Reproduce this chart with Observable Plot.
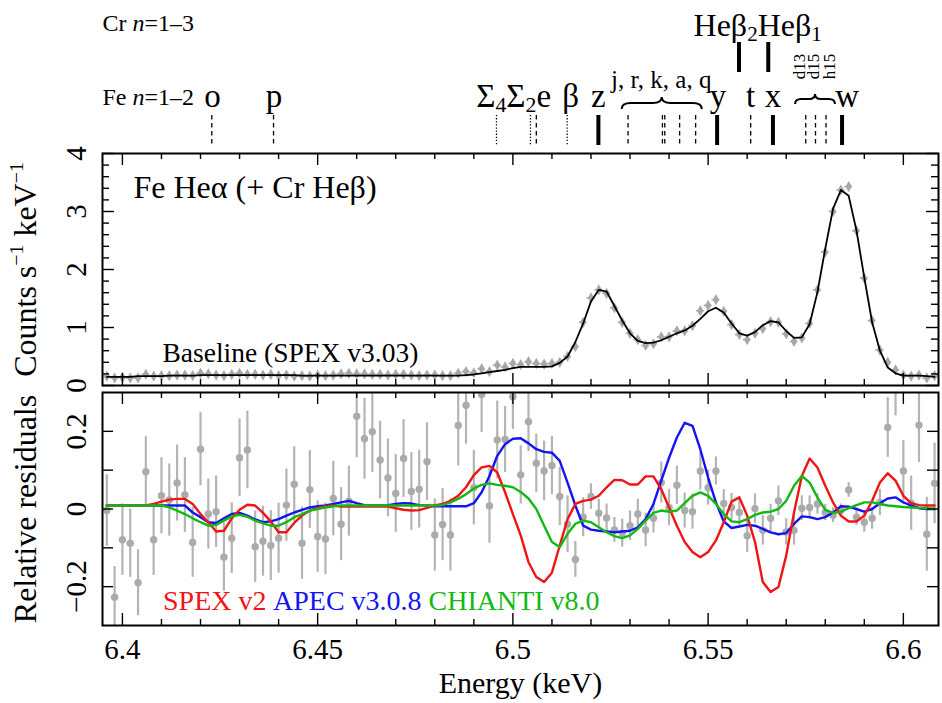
<!DOCTYPE html>
<html>
<head>
<meta charset="utf-8">
<script src="https://cdn.jsdelivr.net/npm/d3@7"></script>
<script src="https://cdn.jsdelivr.net/npm/@observablehq/plot@0.6"></script>
<style>
html,body{margin:0;padding:0;background:#fff;}
#chart{position:relative;width:942px;height:703px;overflow:hidden;background:#fff;}
#chart svg{position:absolute;left:0;}
</style>
</head>
<body>
<div id="chart"></div>
<script>
// ---------------- DATA ----------------
const energy = [6.396,6.398,6.400,6.402,6.404,6.406,6.408,6.410,6.412,6.414,
6.416,6.418,6.420,6.422,6.424,6.426,6.428,6.430,6.432,6.434,
6.436,6.438,6.440,6.442,6.444,6.446,6.448,6.450,6.452,6.454,
6.456,6.458,6.460,6.462,6.464,6.466,6.468,6.470,6.472,6.474,
6.476,6.478,6.480,6.482,6.484,6.486,6.488,6.490,6.492,6.494,
6.496,6.498,6.500,6.502,6.504,6.506,6.508,6.510,6.512,6.514,
6.516,6.518,6.520,6.522,6.524,6.526,6.528,6.530,6.532,6.534,
6.536,6.538,6.540,6.542,6.544,6.546,6.548,6.550,6.552,6.554,
6.556,6.558,6.560,6.562,6.564,6.566,6.568,6.570,6.572,6.574,
6.576,6.578,6.580,6.582,6.584,6.586,6.588,6.590,6.592,6.594,
6.596,6.598,6.600,6.602,6.604,6.606,6.608];

// observed counts (counts s^-1 keV^-1)
const counts = [0.16,0.13,0.14,0.13,0.13,0.19,0.16,0.17,0.17,0.18,
0.18,0.17,0.21,0.20,0.18,0.17,0.19,0.21,0.19,0.19,
0.18,0.19,0.17,0.18,0.16,0.17,0.16,0.18,0.17,0.18,
0.20,0.21,0.20,0.20,0.19,0.19,0.18,0.19,0.19,0.18,
0.17,0.18,0.18,0.17,0.17,0.21,0.24,0.22,0.29,0.24,
0.35,0.32,0.38,0.36,0.41,0.38,0.37,0.38,0.40,0.50,
0.67,1.09,1.51,1.65,1.59,1.34,1.09,0.90,0.79,0.69,
0.72,0.84,0.84,0.94,0.94,1.03,1.29,1.38,1.48,1.28,
1.05,0.88,0.79,0.90,0.98,1.10,1.09,0.89,0.76,0.82,
1.07,1.65,2.30,3.00,3.37,3.43,2.67,1.85,1.12,0.61,
0.40,0.27,0.18,0.16,0.18,0.13,0.17];
const countsErr = 0.045;
const binHalfWidth = 0.001;

// baseline model (SPEX v3.03)
const model = [0.15,0.15,0.15,0.15,0.16,0.16,0.16,0.16,0.17,0.17,
0.17,0.17,0.18,0.18,0.18,0.18,0.18,0.18,0.18,0.18,
0.18,0.18,0.18,0.18,0.18,0.17,0.17,0.17,0.17,0.17,
0.17,0.17,0.17,0.17,0.17,0.17,0.17,0.17,0.17,0.17,
0.17,0.17,0.17,0.17,0.17,0.17,0.18,0.19,0.21,0.23,
0.25,0.27,0.30,0.32,0.32,0.32,0.32,0.33,0.39,0.50,
0.75,1.07,1.45,1.65,1.62,1.37,1.12,0.90,0.77,0.73,
0.74,0.78,0.84,0.90,0.95,1.03,1.15,1.28,1.34,1.26,
1.07,0.90,0.86,0.92,1.04,1.11,1.09,0.94,0.82,0.83,
1.06,1.61,2.36,3.05,3.37,3.27,2.67,1.86,1.09,0.60,
0.31,0.21,0.17,0.17,0.17,0.16,0.15];

// relative residuals and their errors
const residual = [-0.004,-0.227,-0.079,-0.088,-0.190,0.096,-0.079,0.034,0.023,0.067,
0.036,-0.086,0.154,-0.013,-0.007,-0.124,-0.075,0.132,0.152,-0.097,
-0.083,-0.094,-0.075,0.010,0.064,-0.088,0.050,-0.071,-0.077,0.027,
-0.039,0.020,0.239,0.181,0.199,0.126,0.080,0.040,0.130,0.045,
0.051,0.122,-0.067,-0.040,-0.067,0.215,0.267,0.055,0.295,0.008,
0.178,0.179,0.289,0.088,0.225,0.118,0.098,0.112,0.032,-0.039,
-0.130,-0.021,0.032,-0.011,-0.023,-0.054,-0.062,-0.043,-0.013,-0.054,
-0.024,0.068,0.004,0.061,-0.004,-0.007,0.098,0.055,0.098,0.014,
0.004,-0.009,-0.069,0.001,-0.055,-0.024,0.021,-0.059,-0.055,0.002,
0.004,0.013,-0.009,-0.016,-0.004,0.049,-0.021,-0.034,-0.024,0.017,
0.210,0.320,0.098,0.015,0.216,-0.065,0.066];
const residualErr = [0.092,0.079,0.092,0.088,0.085,0.090,0.092,0.098,0.093,0.098,
0.096,0.090,0.094,0.090,0.092,0.088,0.091,0.100,0.100,0.092,
0.090,0.090,0.090,0.093,0.096,0.093,0.100,0.092,0.092,0.096,
0.094,0.090,0.107,0.104,0.105,0.100,0.100,0.100,0.100,0.100,
0.100,0.100,0.093,0.093,0.093,0.104,0.100,0.096,0.098,0.096,
0.100,0.085,0.084,0.075,0.077,0.075,0.077,0.075,0.075,0.073,
0.046,0.050,0.033,0.036,0.036,0.032,0.036,0.038,0.038,0.043,
0.038,0.053,0.047,0.049,0.045,0.045,0.049,0.045,0.036,0.036,
0.036,0.034,0.043,0.038,0.038,0.036,0.038,0.034,0.038,0.032,
0.030,0.026,0.021,0.019,0.017,0.019,0.021,0.026,0.028,0.034,
0.077,0.080,0.078,0.070,0.096,0.095,0.104];

// alternative codes, relative to baseline
const spexV2 = [0.009,0.009,0.009,0.009,0.009,0.009,0.013,0.019,0.024,0.026,
0.026,0.013,-0.013,-0.034,-0.058,-0.056,-0.024,-0.002,0.011,0.009,
-0.010,-0.032,-0.060,-0.060,-0.036,-0.017,-0.004,0.003,0.007,0.009,
0.006,0.006,0.006,0.006,0.006,0.006,0.006,0.002,-0.002,-0.004,
-0.003,0.003,0.009,0.013,0.021,0.034,0.056,0.087,0.107,0.111,
0.094,0.043,-0.013,-0.068,-0.137,-0.175,-0.188,-0.164,-0.094,-0.026,
0.013,0.021,0.024,0.034,0.056,0.075,0.074,0.063,0.063,0.084,
0.084,0.051,0.004,-0.043,-0.085,-0.111,-0.124,-0.111,-0.081,-0.034,
0.019,0.030,-0.017,-0.085,-0.188,-0.214,-0.201,-0.120,-0.009,0.085,
0.130,0.107,0.060,0.017,-0.017,-0.032,-0.032,-0.017,0.021,0.068,
0.092,0.073,0.034,0.015,0.010,0.009,0.009];
const apecV308 = [0.009,0.009,0.009,0.009,0.009,0.009,0.009,0.009,0.009,0.009,
0.009,-0.009,-0.021,-0.034,-0.036,-0.024,-0.013,-0.010,-0.017,-0.027,
-0.034,-0.032,-0.026,-0.017,-0.009,-0.002,0.004,0.007,0.009,0.013,
0.017,0.021,0.015,0.010,0.009,0.009,0.010,0.013,0.015,0.014,
0.010,0.009,0.007,0.007,0.007,0.007,0.007,0.015,0.043,0.085,
0.137,0.167,0.181,0.182,0.169,0.154,0.147,0.145,0.124,0.068,
0.009,-0.043,-0.053,-0.056,-0.058,-0.060,-0.058,-0.056,-0.047,-0.026,
0.013,0.073,0.132,0.184,0.222,0.214,0.154,0.081,0.017,-0.032,
-0.049,-0.045,-0.041,-0.043,-0.051,-0.060,-0.065,-0.062,-0.038,-0.019,
-0.021,-0.026,-0.021,-0.009,0.007,0.006,0.000,-0.007,0.000,0.015,
0.027,0.030,0.017,0.009,0.002,0.000,0.000];
const chiantiV8 = [0.009,0.009,0.009,0.009,0.009,0.009,0.009,0.009,0.004,-0.004,
-0.013,-0.024,-0.034,-0.043,-0.041,-0.030,-0.019,-0.015,-0.020,-0.030,
-0.037,-0.043,-0.043,-0.034,-0.021,-0.013,-0.004,0.000,0.004,0.007,
0.009,0.009,0.009,0.009,0.009,0.009,0.009,0.009,0.009,0.009,
0.009,0.009,0.009,0.010,0.017,0.026,0.038,0.053,0.062,0.066,
0.062,0.060,0.056,0.044,0.027,0.000,-0.043,-0.085,-0.098,-0.064,
-0.038,-0.030,-0.034,-0.047,-0.060,-0.070,-0.075,-0.068,-0.051,-0.030,
-0.010,-0.004,-0.007,-0.004,0.015,0.034,0.043,0.034,0.013,-0.013,
-0.032,-0.034,-0.026,-0.015,-0.009,-0.007,0.000,0.021,0.060,0.085,
0.068,0.030,-0.002,-0.010,-0.007,0.002,0.010,0.017,0.017,0.013,
0.009,0.007,0.005,0.004,0.003,0.002,0.000];

// legend
const codeNames = ["SPEX v2", "APEC v3.0.8", "CHIANTI v8.0"];
const codeColors = ["#f01414", "#1414f0", "#14b814"];

// line identifications (keV)
const feLineNames = ["o","p","Σ4","Σ2","e","β","z","j","r","k","a","q","y","t","x","d13","d15","h15","w"];
const feLineEnergy = [6.4229,6.4387,6.4958,6.5045,6.5060,6.5139,6.5219,6.5295,6.5383,6.5389,6.5427,6.5468,6.5523,6.5609,6.5666,6.5750,6.5775,6.5802,6.5843];
const feLineStyle = ["dash","dash","dot","dot","dash","dot","solid","dash","dash","dash","dash","dash","solid","dash","solid","dash","dash","dash","solid"];
const crLineNames = ["Heβ2","Heβ1"];
const crLineEnergy = [6.5579, 6.5654];
const feLabelText = ["o","p","Σ_{4}Σ_{2}e","β","z","y","t","x","w"];
const feLabelEnergy = [6.4231,6.4388,6.5002,6.5148,6.5219,6.5525,6.5609,6.5666,6.5856];
const groupLabelText = ["j, r, k, a, q"];
const groupLabelEnergy = [6.5380];
const satLabelText = ["d13","d15","h15"];
const satLabelEnergy = [6.5733,6.5771,6.5810];
const crLabelText = ["Heβ_{2}Heβ_{1}"];
const crLabelEnergy = [6.5627];
const braceFrom = [6.5280, 6.5724];
const braceTo = [6.5485, 6.5826];

// axes
const xMajor = [6.40, 6.45, 6.50, 6.55, 6.60];
const xMajorLabels = ["6.4", "6.45", "6.5", "6.55", "6.6"];
const xMinor = [6.41,6.42,6.43,6.44,6.46,6.47,6.48,6.49,6.51,6.52,6.53,6.54,6.56,6.57,6.58,6.59];
const topYMajor = [0,1,2,3,4];
const topYMinor = [0.2,0.4,0.6,0.8,1.2,1.4,1.6,1.8,2.2,2.4,2.6,2.8,3.2,3.4,3.6,3.8];
const botYTicks = [-0.2,-0.1,0,0.1,0.2];
const botYLabelVals = [-0.2, 0, 0.2];
const botYLabels = ["−0.2", "0", "0.2"];

// ---------------- LAYOUT ----------------
const FONT = '"Liberation Serif","Times New Roman",serif';
const W = 942, ML = 102, MR = 4;
const frameW = W - ML - MR;
const X_DOMAIN = [6.3949, 6.609];
const topH = 386, topMT = 153, topMB = 1, topFH = topH - topMT - topMB;
const botH = 317, botMT = 6, botMB = 78, botFH = botH - botMT - botMB;
const T = {lineAnchor: "middle"};

function tickRules(fh, yMaj, yMin, yMajLen, yMinLen) {
  const s = {stroke: "#000", strokeWidth: 1.4};
  const m = [
    Plot.ruleX(xMajor, {x: d => d, insetBottom: fh - 12, ...s}),
    Plot.ruleX(xMajor, {x: d => d, insetTop: fh - 12, ...s}),
    Plot.ruleX(xMinor, {x: d => d, insetBottom: fh - 6, ...s}),
    Plot.ruleX(xMinor, {x: d => d, insetTop: fh - 6, ...s}),
    Plot.ruleY(yMaj, {y: d => d, insetRight: frameW - yMajLen, ...s}),
    Plot.ruleY(yMaj, {y: d => d, insetLeft: frameW - yMajLen, ...s})
  ];
  if (yMin) {
    m.push(Plot.ruleY(yMin, {y: d => d, insetRight: frameW - yMinLen, ...s}));
    m.push(Plot.ruleY(yMin, {y: d => d, insetLeft: frameW - yMinLen, ...s}));
  }
  return m;
}

const topRows = energy.map((e, i) => ({e, c: counts[i], m: model[i]}));
const feRows = feLineEnergy.map((e, i) => ({e, name: feLineNames[i], style: feLineStyle[i]}));
const crRows = crLineEnergy.map((e, i) => ({e, name: crLineNames[i]}));
const feLabels = feLabelText.map((t, i) => ({t, e: feLabelEnergy[i]}));
const groupLabels = groupLabelText.map((t, i) => ({t, e: groupLabelEnergy[i]}));
const satLabels = satLabelText.map((t, i) => ({t, e: satLabelEnergy[i]}));
const crLabels = crLabelText.map((t, i) => ({t, e: crLabelEnergy[i]}));

const braceGeom = [{tip: -56, body: -50, end: -44, r: 9}, {tip: -59, body: -54, end: -49, r: 6}];
function braceMark(index, scales, values, dimensions) {
  const NS = "http://www.w3.org/2000/svg";
  const g = document.createElementNS(NS, "g");
  const xs = scales && scales.x ? scales.x : d3.scaleLinear(X_DOMAIN, [ML, W - MR]);
  const mt = dimensions && dimensions.marginTop != null ? dimensions.marginTop : topMT;
  braceFrom.forEach((e0, i) => {
    const x1 = xs(e0), x2 = xs(braceTo[i]), xm = (x1 + x2) / 2;
    const G = braceGeom[i];
    const yt = mt + G.tip, ym = mt + G.body, yb = mt + G.end, r = G.r;
    const p = document.createElementNS(NS, "path");
    p.setAttribute("d", `M${x1},${yb} Q${x1},${ym} ${x1 + r},${ym} L${xm - r},${ym} Q${xm},${ym} ${xm},${yt} Q${xm},${ym} ${xm + r},${ym} L${x2 - r},${ym} Q${x2},${ym} ${x2},${yb}`);
    p.setAttribute("fill", "none");
    p.setAttribute("stroke", "#000");
    p.setAttribute("stroke-width", "2");
    g.appendChild(p);
  });
  return g;
}

const dashStyle = {x: "e", insetTop: 115 - topMT, insetBottom: topFH + (topMT - 145), stroke: "#000"};

const topPlot = Plot.plot({
  width: W, height: topH,
  marginLeft: ML, marginRight: MR, marginTop: topMT, marginBottom: topMB,
  x: {domain: X_DOMAIN, axis: null},
  y: {domain: [0, 4], axis: null},
  style: {fontFamily: FONT, background: "transparent", color: "#000", overflow: "visible"},
  marks: [
    Plot.ruleX(topRows, {x: "e", y1: d => d.c - countsErr, y2: d => d.c + countsErr, stroke: "#a8a8a8", strokeWidth: 1.6}),
    Plot.ruleY(topRows, {y: "c", x1: d => d.e - binHalfWidth, x2: d => d.e + binHalfWidth, stroke: "#a8a8a8", strokeWidth: 1.6}),
    Plot.dot(topRows, {x: "e", y: "c", symbol: "diamond", r: 3.4, fill: "#a8a8a8", stroke: "none"}),
    Plot.line(topRows, {x: "e", y: "m", stroke: "#000", strokeWidth: 1.8}),
    Plot.frame({stroke: "#000", strokeWidth: 2}),
    ...tickRules(topFH, topYMajor, topYMinor, 12, 7),
    // line identifications
    Plot.ruleX(feRows.filter(d => d.style === "dash"), {...dashStyle, strokeWidth: 1.3, strokeDasharray: "4.5,3.5"}),
    Plot.ruleX(feRows.filter(d => d.style === "dot"), {...dashStyle, strokeWidth: 1.3, strokeDasharray: "1.3,1.8"}),
    Plot.ruleX(feRows.filter(d => d.style === "solid"), {...dashStyle, strokeWidth: 4}),
    Plot.ruleX(crRows, {x: "e", insetTop: 42 - topMT, insetBottom: topFH + (topMT - 72), stroke: "#000", strokeWidth: 4}),
    Plot.text(feLabels, {...T, x: "e", text: "t", frameAnchor: "top", dy: -57, fontSize: 33}),
    Plot.text(groupLabels, {...T, x: "e", text: "t", frameAnchor: "top", dy: -74, fontSize: 25}),
    Plot.text(satLabels, {...T, x: "e", text: "t", frameAnchor: "top", textAnchor: "middle", dy: -87, rotate: -90, fontSize: 17}),
    Plot.text(crLabels, {...T, x: "e", text: "t", frameAnchor: "top", dy: -128, fontSize: 32}),
    Plot.text(["Cr *n*=1–3"], {...T, text: d => d, frameAnchor: "top-left", textAnchor: "start", dy: -130, fontSize: 24}),
    Plot.text(["Fe *n*=1–2"], {...T, text: d => d, frameAnchor: "top-left", textAnchor: "start", dy: -56, fontSize: 24}),
    braceMark,
    // panel texts
    Plot.text(["Fe Heα (+ Cr Heβ)"], {...T, text: d => d, frameAnchor: "top-left", textAnchor: "start", dx: 31, dy: 34, fontSize: 32}),
    Plot.text(["Baseline (SPEX v3.03)"], {...T, text: d => d, frameAnchor: "bottom-left", textAnchor: "start", dx: 60, dy: -32, fontSize: 27.5}),
    // y axis labels
    Plot.text(topYMajor, {...T, y: d => d, text: d => String(d), frameAnchor: "left", textAnchor: "middle", dx: -26, rotate: -90, fontSize: 29}),
    Plot.text(["Counts s^{−1} keV^{−1}"], {...T, text: d => d, frameAnchor: "left", textAnchor: "middle", dx: -77, rotate: -90, fontSize: 32})
  ]
});

const resRows = energy.map((e, i) => ({e, r: residual[i], lo: residual[i] - residualErr[i], hi: residual[i] + residualErr[i]}));
const codeSeries = [spexV2, apecV308, chiantiV8];
const curveRows = (k) => energy.map((e, i) => ({e, v: codeSeries[k][i]}));
const legendDx = [60.5, 170.5, 326];

const botPlot = Plot.plot({
  width: W, height: botH,
  marginLeft: ML, marginRight: MR, marginTop: botMT, marginBottom: botMB,
  x: {domain: X_DOMAIN, axis: null},
  y: {domain: [-0.3, 0.3], axis: null},
  style: {fontFamily: FONT, background: "transparent", color: "#000", overflow: "visible"},
  marks: [
    Plot.ruleX(resRows, {x: "e", y1: "lo", y2: "hi", stroke: "#b4b4b4", strokeWidth: 2.2, clip: true}),
    Plot.dot(resRows, {x: "e", y: "r", r: 3.7, fill: "#ababab", stroke: "none", clip: true}),
    Plot.line(curveRows(1), {x: "e", y: "v", stroke: codeColors[1], strokeWidth: 2.4, clip: true}),
    Plot.line(curveRows(0), {x: "e", y: "v", stroke: codeColors[0], strokeWidth: 2.4, clip: true}),
    Plot.line(curveRows(2), {x: "e", y: "v", stroke: codeColors[2], strokeWidth: 2.4, clip: true}),
    Plot.frame({stroke: "#000", strokeWidth: 2}),
    ...tickRules(botFH, botYTicks, null, 11, 0),
    ...codeNames.map((n, i) => Plot.text([n], {...T, text: d => d, frameAnchor: "bottom-left", textAnchor: "start", dx: legendDx[i], dy: -24, fontSize: 28, fill: codeColors[i]})),
    Plot.text(botYLabelVals, {...T, y: d => d, text: (d, i) => botYLabels[i], frameAnchor: "left", textAnchor: "middle", dx: -26, rotate: -90, fontSize: 29}),
    Plot.text(["Relative residuals"], {...T, text: d => d, frameAnchor: "left", textAnchor: "middle", dx: -77, rotate: -90, fontSize: 32}),
    Plot.text(xMajor, {...T, x: d => d, text: (d, i) => xMajorLabels[i], frameAnchor: "bottom", dy: 24, fontSize: 29}),
    Plot.text(["Energy (keV)"], {...T, text: d => d, frameAnchor: "bottom", dy: 58, fontSize: 30})
  ]
});

const chart = document.getElementById("chart");
topPlot.style.top = "0px";
botPlot.style.top = "386px";
chart.appendChild(topPlot);
chart.appendChild(botPlot);

function richify(root) {
  const NS = "http://www.w3.org/2000/svg";
  root.querySelectorAll("text").forEach(t => {
    const s = t.textContent;
    if (!/(_\{|\^\{|\*[^*]+\*)/.test(s)) return;
    const fs = parseFloat(getComputedStyle(t).fontSize) || 16;
    const parts = s.split(/(_\{[^}]*\}|\^\{[^}]*\}|\*[^*]+\*)/).filter(p => p);
    while (t.firstChild) t.removeChild(t.firstChild);
    let shift = 0;
    parts.forEach(p => {
      const ts = document.createElementNS(NS, "tspan");
      let txt = p, target = 0, size = null, italic = false;
      if (p.startsWith("_{")) { txt = p.slice(2, -1); target = 0.16 * fs; size = 0.66 * fs; }
      else if (p.startsWith("^{")) { txt = p.slice(2, -1); target = -0.4 * fs; size = 0.62 * fs; }
      else if (p.length > 2 && p.startsWith("*") && p.endsWith("*")) { txt = p.slice(1, -1); italic = true; }
      ts.textContent = txt;
      if (target !== shift) ts.setAttribute("dy", String(target - shift));
      shift = target;
      if (size) ts.setAttribute("font-size", String(size));
      if (italic) ts.setAttribute("font-style", "italic");
      t.appendChild(ts);
    });
  });
}
richify(topPlot);
richify(botPlot);
</script>
</body>
</html>
